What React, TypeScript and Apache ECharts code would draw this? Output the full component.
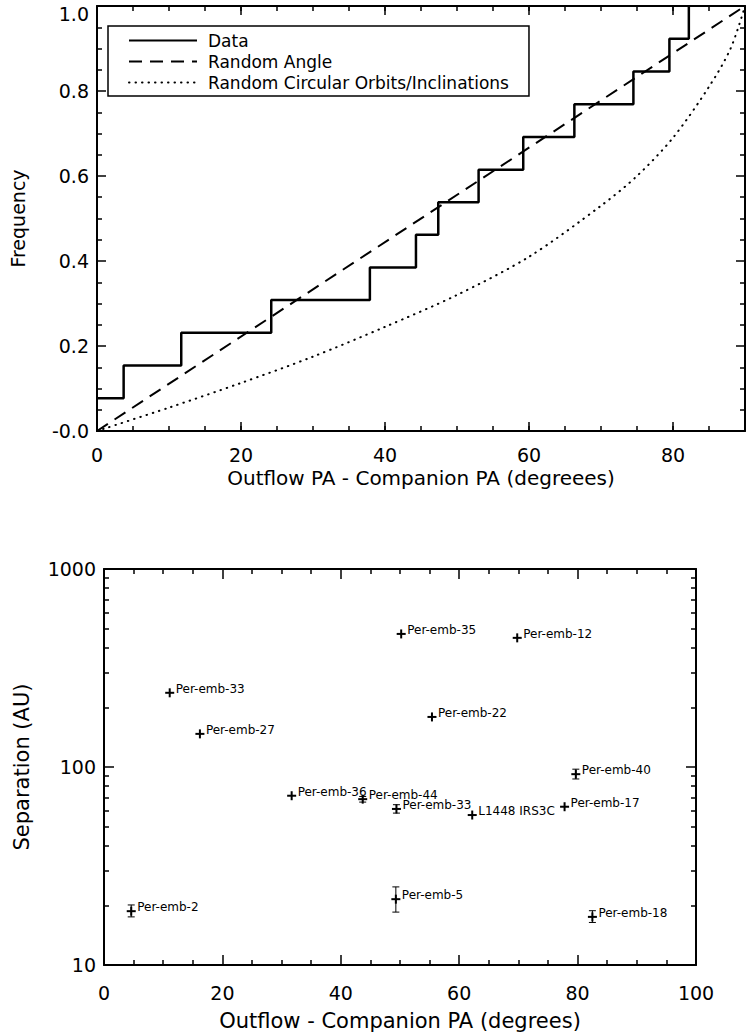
import React, { useEffect, useRef } from 'react';
import * as echarts from 'echarts';

// ---- Top panel: cumulative distribution of outflow/companion angle ----
const stepAngles = [0, 3.7, 11.7, 24.2, 37.9, 44.3, 47.4, 53.0, 59.2, 66.3, 74.5, 79.5, 82.2];
const stepFreq = [0.077, 0.154, 0.231, 0.308, 0.385, 0.462, 0.538, 0.615, 0.692, 0.769, 0.846, 0.923, 1.0];

const randomAngleX = [0, 90];
const randomAngleY = [0, 1];

const orbitX = [0, 10, 20, 30, 40, 50, 60, 70, 75, 80, 85, 88, 90];
const orbitY = [0, 0.055, 0.113, 0.175, 0.245, 0.32, 0.41, 0.53, 0.6, 0.69, 0.81, 0.9, 1.0];

const xTicksTop = [0, 20, 40, 60, 80];
const yTicksTop = [0, 0.2, 0.4, 0.6, 0.8, 1.0];

// ---- Bottom panel: separation vs angle ----
const sourceNames = [
  'Per-emb-2', 'Per-emb-33', 'Per-emb-27', 'Per-emb-36', 'Per-emb-44', 'Per-emb-33',
  'Per-emb-5', 'Per-emb-35', 'Per-emb-22', 'L1448 IRS3C', 'Per-emb-12', 'Per-emb-17',
  'Per-emb-40', 'Per-emb-18',
];
const sourcePA = [4.6, 11.1, 16.2, 31.7, 43.7, 49.4, 49.3, 50.2, 55.4, 62.2, 69.8, 77.8, 79.7, 82.5];
const sourceSep = [18.7, 237, 147, 71.6, 68.8, 61.4, 21.5, 470, 179, 57.2, 449, 63, 92, 17.5];
const sepLow = [17.5, 237, 147, 71.6, 66.5, 58.5, 18.5, 470, 179, 57.2, 449, 63, 87, 16.4];
const sepHigh = [20.1, 237, 147, 71.6, 71.0, 64.5, 24.8, 470, 179, 57.2, 449, 63, 97.5, 18.8];

const FONT = '"DejaVu Sans", sans-serif';
const BLACK = '#000';

const tickLine = { color: BLACK, width: 1.5 };
const axisLineStyle = { show: true, onZero: false, lineStyle: { color: BLACK, width: 2 } };

export default function App() {
  const ref = useRef<HTMLDivElement>(null);

  useEffect(() => {
    if (!ref.current) return;
    const chart = echarts.init(ref.current, undefined, { renderer: 'svg' });

    const option: any = {
      animation: false,
      backgroundColor: '#fff',
      textStyle: { fontFamily: FONT, color: BLACK },
      grid: [
        { left: 96, top: 6, width: 650, height: 425, show: false },
        { left: 104, top: 569, width: 592, height: 396, show: false },
      ],
      legend: {
        data: ['Data', 'Random Angle', 'Random Circular Orbits/Inclinations'],
        orient: 'vertical',
        left: 108,
        top: 26,
        itemWidth: 68,
        itemHeight: 14,
        itemGap: 4,
        padding: [6, 20, 5, 20],
        borderColor: BLACK,
        borderWidth: 1.5,
        borderRadius: 0,
        backgroundColor: '#fff',
        selectedMode: false,
        itemStyle: { opacity: 0, borderWidth: 0 },
        textStyle: { fontSize: 17, lineHeight: 14, color: BLACK, fontFamily: FONT, padding: [0, 0, 0, 6] },
      },
      xAxis: [
        {
          gridIndex: 0, type: 'value', position: 'bottom', min: 0, max: 90, interval: 20,
          axisLine: axisLineStyle,
          axisTick: { show: true, inside: true, length: 9, lineStyle: tickLine },
          axisLabel: { show: true, margin: 14, fontSize: 19, color: BLACK, fontFamily: FONT,
            formatter: (v: number) => (xTicksTop.includes(v) ? String(v) : '') },
          splitLine: { show: false },
          name: 'Outflow PA - Companion PA (degreees)', nameLocation: 'middle', nameGap: 37,
          nameTextStyle: { fontSize: 20, color: BLACK, fontFamily: FONT },
        },
        {
          gridIndex: 0, type: 'value', position: 'bottom', min: 0, max: 90, interval: 5,
          axisLine: { show: false, onZero: false },
          axisTick: { show: true, inside: true, length: 5, lineStyle: tickLine },
          axisLabel: { show: false }, splitLine: { show: false },
        },
        {
          gridIndex: 0, type: 'value', position: 'top', min: 0, max: 90, interval: 20,
          axisLine: axisLineStyle,
          axisTick: { show: true, inside: true, length: 9, lineStyle: tickLine },
          axisLabel: { show: false }, splitLine: { show: false },
        },
        {
          gridIndex: 0, type: 'value', position: 'top', min: 0, max: 90, interval: 5,
          axisLine: { show: false, onZero: false },
          axisTick: { show: true, inside: true, length: 5, lineStyle: tickLine },
          axisLabel: { show: false }, splitLine: { show: false },
        },
        {
          gridIndex: 1, type: 'value', position: 'bottom', min: 0, max: 100, interval: 20,
          axisLine: axisLineStyle,
          axisTick: { show: true, inside: true, length: 10, lineStyle: tickLine },
          minorTick: { show: true, splitNumber: 4, length: 5, lineStyle: tickLine },
          axisLabel: { show: true, margin: 18, fontSize: 19, color: BLACK, fontFamily: FONT },
          splitLine: { show: false },
          name: 'Outflow - Companion PA (degrees)', nameLocation: 'middle', nameGap: 45,
          nameTextStyle: { fontSize: 21, color: BLACK, fontFamily: FONT },
        },
        {
          gridIndex: 1, type: 'value', position: 'top', min: 0, max: 100, interval: 20,
          axisLine: axisLineStyle,
          axisTick: { show: true, inside: true, length: 10, lineStyle: tickLine },
          minorTick: { show: true, splitNumber: 4, length: 5, lineStyle: tickLine },
          axisLabel: { show: false }, splitLine: { show: false },
        },
      ],
      yAxis: [
        {
          gridIndex: 0, type: 'value', position: 'left', min: 0, max: 1, interval: 0.2,
          axisLine: axisLineStyle,
          axisTick: { show: true, inside: true, length: 9, lineStyle: tickLine },
          minorTick: { show: true, splitNumber: 4, length: 5, lineStyle: tickLine },
          axisLabel: {
            show: true, margin: 8, fontSize: 19, color: BLACK, fontFamily: FONT,
            formatter: (v: number) => {
              const t = yTicksTop.find((k) => Math.abs(k - v) < 1e-6);
              if (t === undefined) return '';
              if (t === 0) return '-0.0';
              if (t === 1) return '{top|1.0}';
              return t.toFixed(1);
            },
            rich: { top: { padding: [16, 0, 0, 0], fontSize: 19, color: BLACK, fontFamily: FONT } },
          },
          splitLine: { show: false },
          name: 'Frequency', nameLocation: 'middle', nameGap: 70,
          nameTextStyle: { fontSize: 19, color: BLACK, fontFamily: FONT },
        },
        {
          gridIndex: 0, type: 'value', position: 'right', min: 0, max: 1, interval: 0.2,
          axisLine: axisLineStyle,
          axisTick: { show: true, inside: true, length: 9, lineStyle: tickLine },
          minorTick: { show: true, splitNumber: 4, length: 5, lineStyle: tickLine },
          axisLabel: { show: false }, splitLine: { show: false },
        },
        {
          gridIndex: 1, type: 'log', logBase: 10, position: 'left', min: 10, max: 1000,
          axisLine: axisLineStyle,
          axisTick: { show: true, inside: true, length: 10, lineStyle: tickLine },
          minorTick: { show: true, splitNumber: 9, length: 5, lineStyle: tickLine },
          axisLabel: { show: true, margin: 8, fontSize: 19, color: BLACK, fontFamily: FONT,
            formatter: (v: number) => String(Math.round(v)) },
          splitLine: { show: false },
          name: 'Separation (AU)', nameLocation: 'middle', nameGap: 72,
          nameTextStyle: { fontSize: 21, color: BLACK, fontFamily: FONT },
        },
        {
          gridIndex: 1, type: 'log', logBase: 10, position: 'right', min: 10, max: 1000,
          axisLine: axisLineStyle,
          axisTick: { show: true, inside: true, length: 10, lineStyle: tickLine },
          minorTick: { show: true, splitNumber: 9, length: 5, lineStyle: tickLine },
          axisLabel: { show: false }, splitLine: { show: false },
        },
      ],
      series: [
        {
          name: 'Data', type: 'line', xAxisIndex: 0, yAxisIndex: 0, step: 'end', symbol: 'none',
          data: stepAngles.map((a, i) => [a, stepFreq[i]]),
          lineStyle: { color: BLACK, width: 2.5 }, itemStyle: { color: BLACK },
        },
        {
          name: 'Random Angle', type: 'line', xAxisIndex: 0, yAxisIndex: 0, symbol: 'none',
          data: randomAngleX.map((a, i) => [a, randomAngleY[i]]),
          lineStyle: { color: BLACK, width: 2, type: [13, 8] }, itemStyle: { color: BLACK },
        },
        {
          name: 'Random Circular Orbits/Inclinations', type: 'line', xAxisIndex: 0, yAxisIndex: 0,
          symbol: 'none', smooth: 0.3,
          data: orbitX.map((a, i) => [a, orbitY[i]]),
          lineStyle: { color: BLACK, width: 2, type: [0.5, 6], cap: 'round' }, itemStyle: { color: BLACK },
        },
        {
          name: 'sources', type: 'custom', xAxisIndex: 4, yAxisIndex: 2, clip: false,
          data: sourcePA.map((x, i) => [x, sourceSep[i], sepLow[i], sepHigh[i]]),
          renderItem: (params: any, api: any) => {
            const x = api.value(0);
            const y = api.value(1);
            const lo = api.value(2);
            const hi = api.value(3);
            const p = api.coord([x, y]);
            const children: any[] = [];
            if (hi > lo) {
              const pl = api.coord([x, lo]);
              const ph = api.coord([x, hi]);
              const s = { stroke: BLACK, lineWidth: 1 };
              children.push({ type: 'line', shape: { x1: p[0], y1: pl[1], x2: p[0], y2: ph[1] }, style: s });
              children.push({ type: 'line', shape: { x1: p[0] - 3.5, y1: pl[1], x2: p[0] + 3.5, y2: pl[1] }, style: s });
              children.push({ type: 'line', shape: { x1: p[0] - 3.5, y1: ph[1], x2: p[0] + 3.5, y2: ph[1] }, style: s });
            }
            const c = { stroke: BLACK, lineWidth: 2 };
            children.push({ type: 'line', shape: { x1: p[0] - 4.5, y1: p[1], x2: p[0] + 4.5, y2: p[1] }, style: c });
            children.push({ type: 'line', shape: { x1: p[0], y1: p[1] - 4.5, x2: p[0], y2: p[1] + 4.5 }, style: c });
            children.push({
              type: 'text', x: p[0] + 6, y: p[1] - 4,
              style: {
                text: sourceNames[params.dataIndex], fontSize: 12, lineHeight: 10, fill: BLACK,
                fontFamily: FONT, verticalAlign: 'middle', align: 'left',
              },
            });
            return { type: 'group', children };
          },
        },
      ],
    };

    chart.setOption(option);
    return () => chart.dispose();
  }, []);

  return (
    <div
      ref={ref}
      style={{ position: 'absolute', left: 0, top: 0, width: 748, height: 1036, background: '#fff' }}
    />
  );
}
